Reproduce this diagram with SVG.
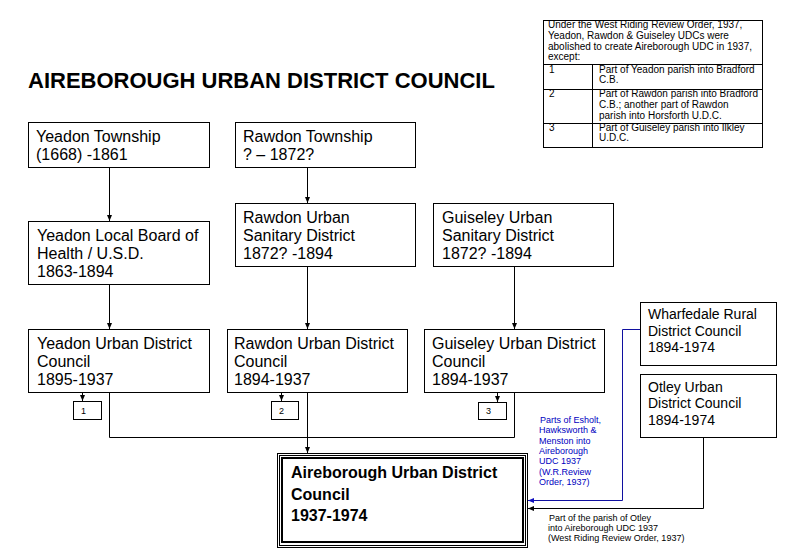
<svg xmlns="http://www.w3.org/2000/svg" width="794" height="548" viewBox="0 0 794 548">
<style>
text{font-family:"Liberation Sans",Arial,sans-serif;fill:#000}
.box{fill:#fff;stroke:#000;stroke-width:1}
.t16{font-size:16px}
.t14{font-size:14px}
.t10{font-size:10px}
.t9{font-size:9px}
.bold{font-weight:bold}
.ln{fill:none;stroke:#000;stroke-width:1}
.blue{fill:none;stroke:#1010a0;stroke-width:1}
.btxt{fill:#0000c0}
</style>
<defs>
<marker id="ah" viewBox="0 0 6 6" refX="6" refY="3" markerWidth="6" markerHeight="6" markerUnits="userSpaceOnUse" orient="auto"><path d="M0,0.5 L6,3 L0,5.5 z" fill="#000"/></marker>
<marker id="ahb" viewBox="0 0 6 6" refX="6" refY="3" markerWidth="6" markerHeight="6" markerUnits="userSpaceOnUse" orient="auto"><path d="M0,0.5 L6,3 L0,5.5 z" fill="#1010c0"/></marker>
</defs>
<rect width="794" height="548" fill="#fff"/>
<text x="28" y="88" font-size="22" class="bold" id="title">AIREBOROUGH URBAN DISTRICT COUNCIL</text>

<g id="connectors">
<path class="ln" d="M109.5,167 V221" marker-end="url(#ah)"/>
<path class="ln" d="M307.5,167 V203" marker-end="url(#ah)"/>
<path class="ln" d="M109.5,285 V329" marker-end="url(#ah)"/>
<path class="ln" d="M307.5,266 V329" marker-end="url(#ah)"/>
<path class="ln" d="M514.5,266 V329" marker-end="url(#ah)"/>
<path class="ln" d="M82.5,393 V401" marker-end="url(#ah)"/>
<path class="ln" d="M281.5,393 V401" marker-end="url(#ah)"/>
<path class="ln" d="M497.5,393 V402" marker-end="url(#ah)"/>
<path class="ln" d="M109.5,393 V437.5 H514.5 V393"/>
<path class="ln" d="M307.5,393 V453" marker-end="url(#ah)"/>
<path class="blue" d="M640,329.5 H622.5 V500.5 H528" marker-end="url(#ahb)"/>
<path class="ln" d="M703.5,437 V508.5 H528" marker-end="url(#ah)"/>
</g>

<g id="yeadon-township"><rect class="box" x="28.5" y="122.5" width="181" height="45"/><text class="t16" x="36"><tspan x="36" y="142">Yeadon Township</tspan><tspan x="36" y="160">(1668) -1861</tspan></text></g>
<g id="rawdon-township"><rect class="box" x="235.5" y="122.5" width="180" height="45"/><text class="t16"><tspan x="243" y="142">Rawdon Township</tspan><tspan x="243" y="160">? – 1872?</tspan></text></g>
<g id="yeadon-lb"><rect class="box" x="28.5" y="221.5" width="181" height="63"/><text class="t16"><tspan x="37" y="241">Yeadon Local Board of</tspan><tspan x="37" y="259">Health / U.S.D.</tspan><tspan x="37" y="277">1863-1894</tspan></text></g>
<g id="rawdon-usd"><rect class="box" x="235.5" y="203.5" width="180" height="63"/><text class="t16"><tspan x="243" y="223">Rawdon Urban</tspan><tspan x="243" y="241">Sanitary District</tspan><tspan x="243" y="259">1872? -1894</tspan></text></g>
<g id="guiseley-usd"><rect class="box" x="433.5" y="203.5" width="180" height="63"/><text class="t16"><tspan x="442" y="223">Guiseley Urban</tspan><tspan x="442" y="241">Sanitary District</tspan><tspan x="442" y="259">1872? -1894</tspan></text></g>
<g id="yeadon-udc"><rect class="box" x="28.5" y="329.5" width="181" height="63"/><text class="t16"><tspan x="37" y="349">Yeadon Urban District</tspan><tspan x="37" y="367">Council</tspan><tspan x="37" y="385">1895-1937</tspan></text></g>
<g id="rawdon-udc"><rect class="box" x="227.5" y="329.5" width="180" height="63"/><text class="t16"><tspan x="234" y="349">Rawdon Urban District</tspan><tspan x="234" y="367">Council</tspan><tspan x="234" y="385">1894-1937</tspan></text></g>
<g id="guiseley-udc"><rect class="box" x="424.5" y="329.5" width="180" height="63"/><text class="t16"><tspan x="432" y="349">Guiseley Urban District</tspan><tspan x="432" y="367">Council</tspan><tspan x="432" y="385">1894-1937</tspan></text></g>
<g id="wharfedale-rdc"><rect class="box" x="640.5" y="302.5" width="136" height="63"/><text class="t14"><tspan x="648" y="319">Wharfedale Rural</tspan><tspan x="648" y="336">District Council</tspan><tspan x="648" y="352">1894-1974</tspan></text></g>
<g id="otley-udc"><rect class="box" x="640.5" y="374.5" width="136" height="63"/><text class="t14"><tspan x="648" y="392">Otley Urban</tspan><tspan x="648" y="408">District Council</tspan><tspan x="648" y="425">1894-1974</tspan></text></g>

<g id="note1"><rect class="box" x="73.5" y="401.5" width="28" height="18"/><text class="t9" x="81" y="414">1</text></g>
<g id="note2"><rect class="box" x="271.5" y="401.5" width="27" height="18"/><text class="t9" x="279" y="414">2</text></g>
<g id="note3"><rect class="box" x="478.5" y="402.5" width="28" height="17"/><text class="t9" x="486" y="414">3</text></g>

<g id="aireborough-udc">
<rect x="277.5" y="453.5" width="250" height="94" fill="#fff" stroke="#000" stroke-width="1"/>
<rect x="279.5" y="455.5" width="246" height="90" fill="none" stroke="#000" stroke-width="1"/>
<rect x="282" y="458" width="241" height="84" fill="none" stroke="#000" stroke-width="2"/>
<text class="t16 bold"><tspan x="291" y="478">Aireborough Urban District</tspan><tspan x="291" y="500">Council</tspan><tspan x="291" y="521">1937-1974</tspan></text>
</g>

<g id="blue-label"><text class="t9 btxt"><tspan x="540" y="423" class="btxt">Parts of Esholt,</tspan><tspan x="539" y="433" class="btxt">Hawksworth &amp;</tspan><tspan x="539" y="443.5" class="btxt">Menston  into</tspan><tspan x="539" y="454" class="btxt">Aireborough</tspan><tspan x="539" y="464" class="btxt">UDC 1937</tspan><tspan x="539" y="474.5" class="btxt">(W.R.Review</tspan><tspan x="539" y="484.5" class="btxt">Order, 1937)</tspan></text></g>
<g id="otley-label"><text class="t9"><tspan x="549" y="521">Part of the parish of Otley</tspan><tspan x="548" y="531">into Aireborough UDC 1937</tspan><tspan x="548" y="541">(West Riding Review Order, 1937)</tspan></text></g>

<g id="note-table">
<rect class="box" x="543.5" y="20.5" width="219" height="127"/>
<path class="ln" d="M543.5,64.5 H762.5 M543.5,89.5 H762.5 M543.5,123.5 H762.5 M592.5,64.5 V147.5"/>
<text class="t10"><tspan x="548" y="28">Under the West Riding Review Order, 1937,</tspan><tspan x="548" y="39">Yeadon, Rawdon &amp; Guiseley UDCs were</tspan><tspan x="548" y="49.5">abolished to create Aireborough UDC in 1937,</tspan><tspan x="548" y="60">except:</tspan></text>
<text class="t10"><tspan x="549" y="73">1</tspan><tspan x="549" y="97">2</tspan><tspan x="549" y="131">3</tspan></text>
<text class="t10"><tspan x="599" y="73">Part of Yeadon parish into Bradford</tspan><tspan x="599" y="83">C.B.</tspan><tspan x="599" y="97">Part of Rawdon parish into Bradford</tspan><tspan x="599" y="108">C.B.; another part of Rawdon</tspan><tspan x="599" y="119">parish into Horsforth U.D.C.</tspan><tspan x="599" y="131">Part of Guiseley parish into Ilkley</tspan><tspan x="599" y="141">U.D.C.</tspan></text>
</g>
</svg>
